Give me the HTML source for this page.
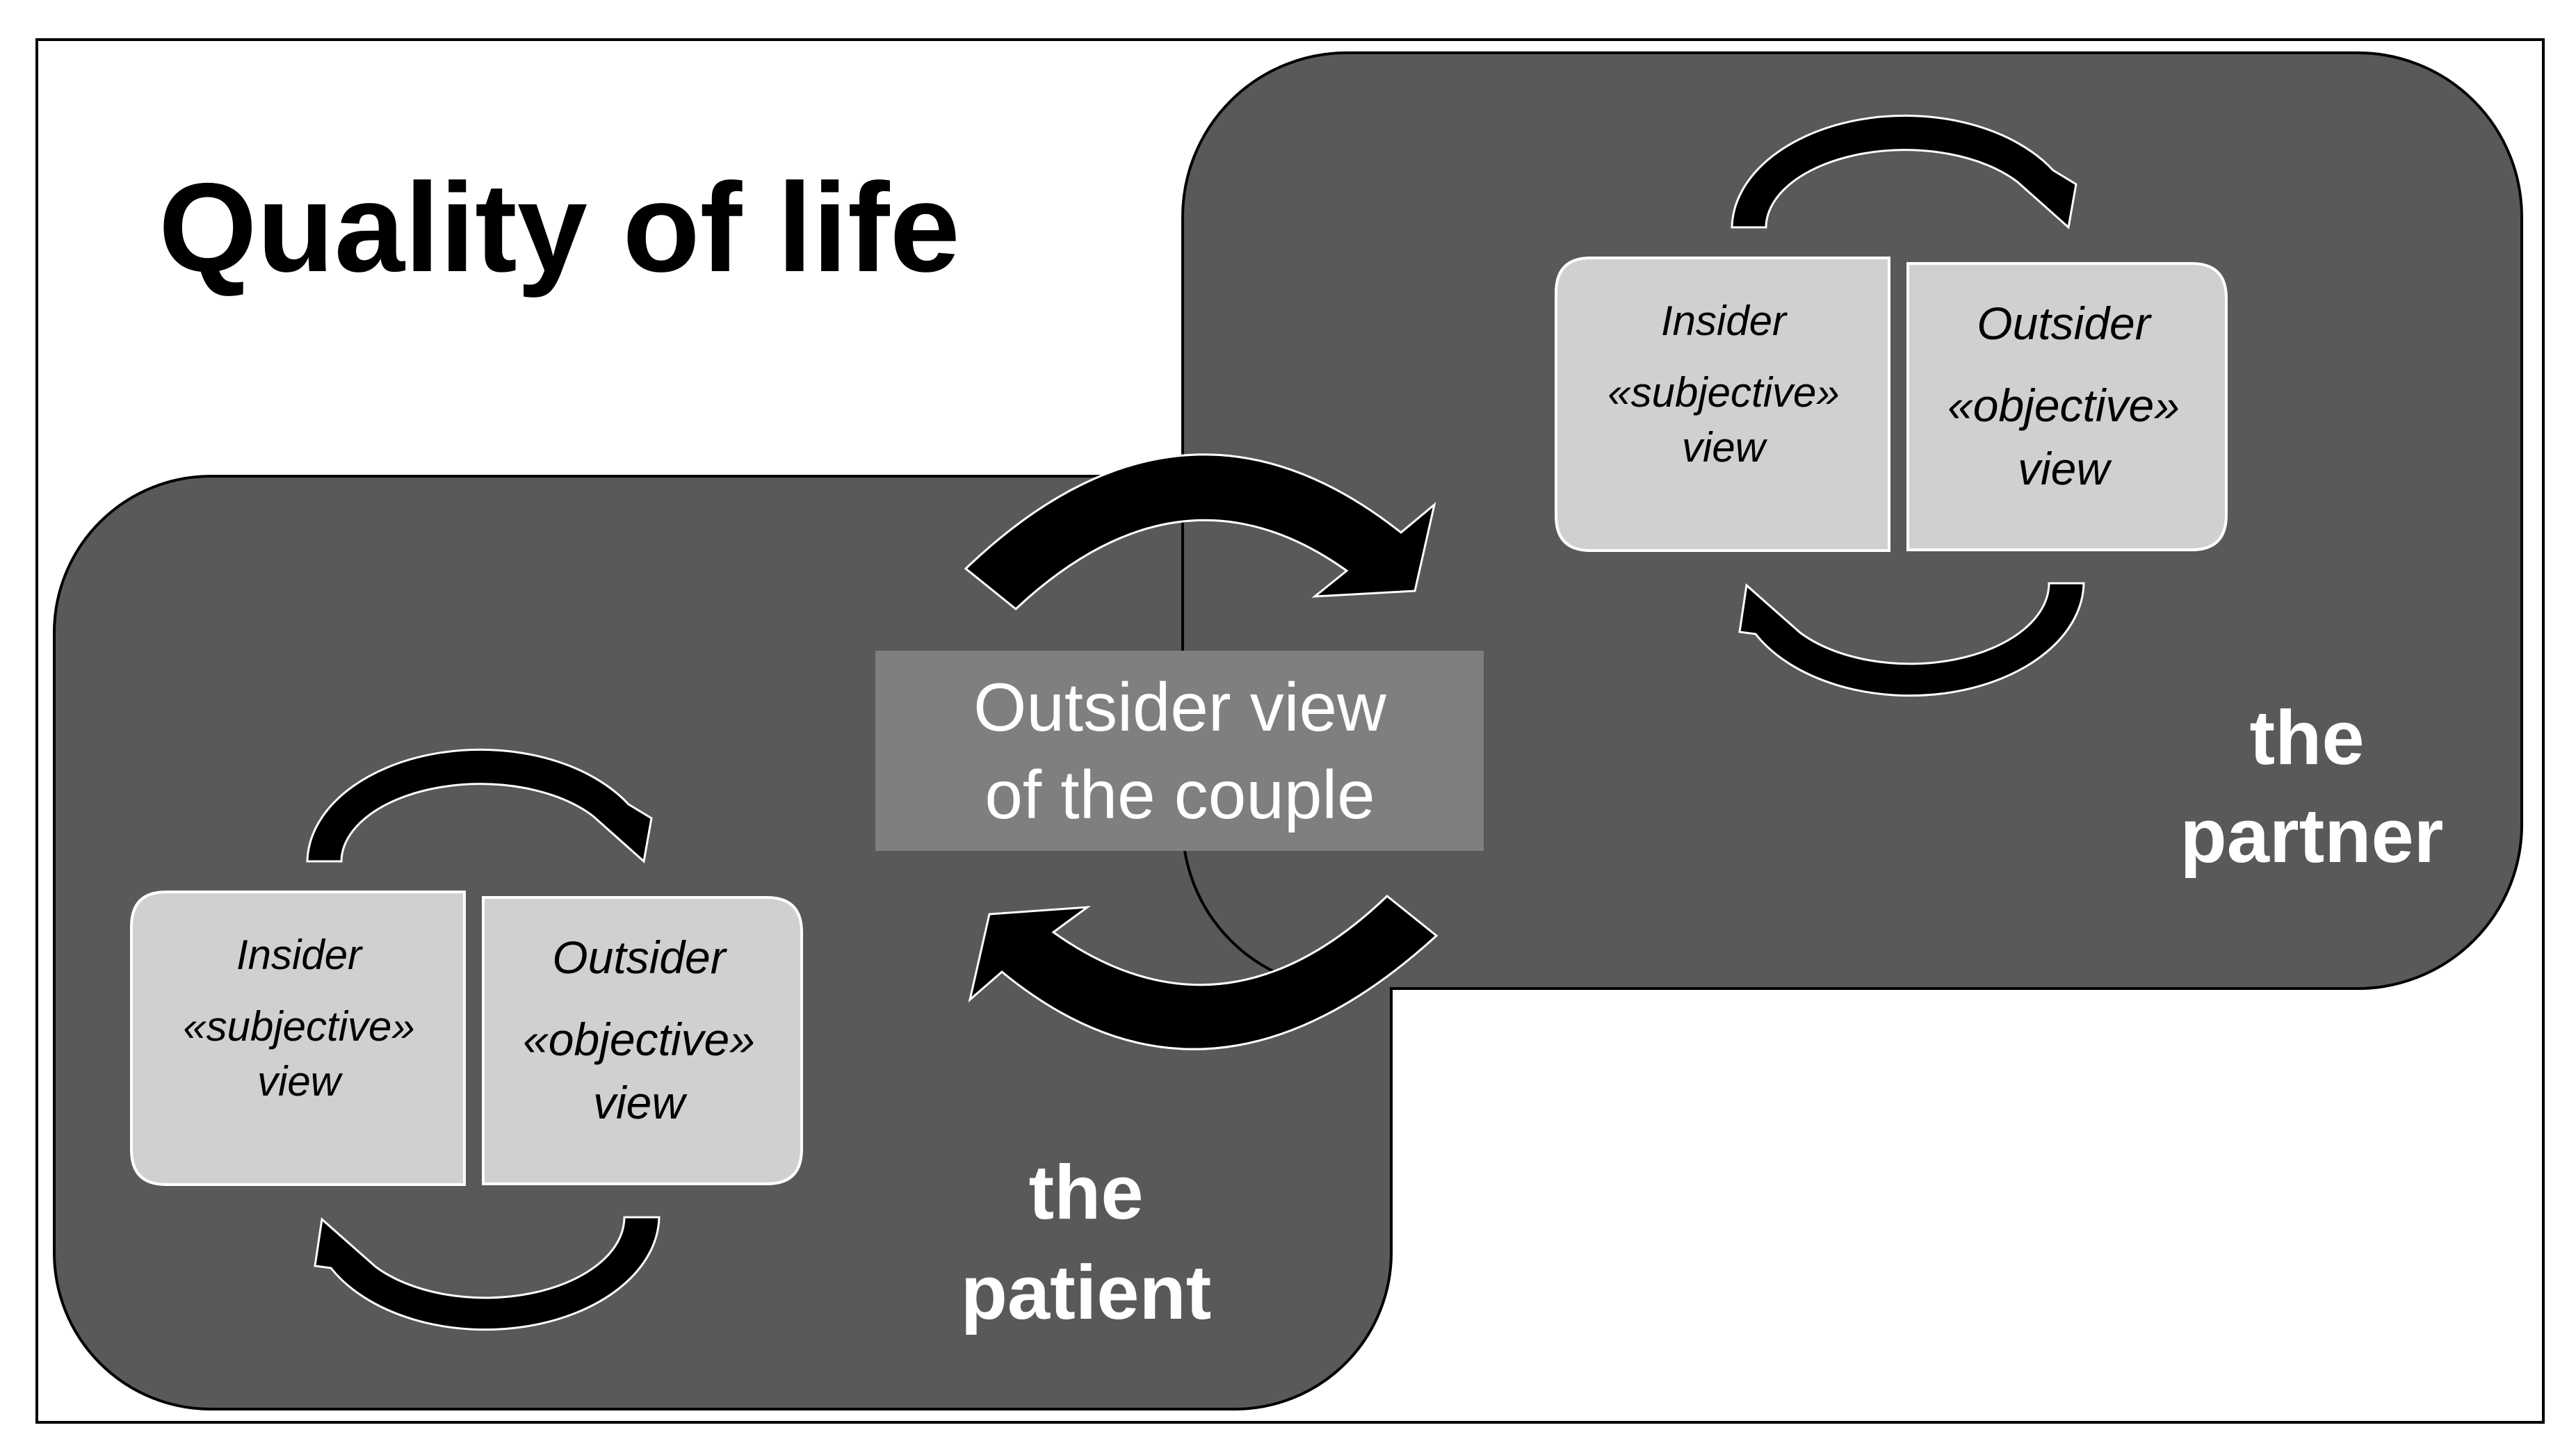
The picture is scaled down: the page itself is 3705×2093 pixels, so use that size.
<!DOCTYPE html>
<html><head><meta charset="utf-8"><style>
html,body{margin:0;padding:0;background:#fff;}
svg{display:block;}
</style></head><body>
<svg width="3705" height="2093" viewBox="0 0 3705 2093" xmlns="http://www.w3.org/2000/svg">
<rect x="0" y="0" width="3705" height="2093" fill="#fff"/>
<rect x="53" y="57" width="3605" height="1989" fill="none" stroke="#000" stroke-width="4"/>
<text x="228" y="390" font-family="Liberation Sans, sans-serif" font-weight="bold" font-size="182" fill="#000">Quality of life</text>

<rect x="78" y="685" width="1923" height="1342" rx="225" ry="225" fill="#595959" stroke="#000" stroke-width="4"/>
<rect x="1701" y="76" width="1926" height="1346" rx="236" ry="236" fill="#595959" stroke="#000" stroke-width="4"/>
<rect x="1840" y="1412" width="159" height="20" fill="#595959"/>

<rect x="1259" y="936" width="875" height="288" fill="#7f7f7f"/>
<g font-family="Liberation Sans, sans-serif" font-size="98" fill="#fff" text-anchor="middle">
<text x="1697" y="1051">Outsider view</text>
<text x="1697" y="1177">of the couple</text>
</g>

<path d="M1389,818 Q1702,518 2015,766 L2063,726 L2035,850 L1891,858 L1937,821 Q1700,652 1461,876 Z" fill="#000" stroke="#fff" stroke-width="3"/>
<path d="M2066,1346 Q1740,1644 1441,1398 L1395,1438 L1423,1315 L1564,1305 L1515,1341 Q1760,1515 1995,1289 Z" fill="#000" stroke="#fff" stroke-width="3"/>

<g id="grp">
<path d="M2491,327 A249,163 0 0 1 2953,245 L2986,265 L2975,327 L2902,262 A200,112 0 0 0 2540,327 Z" fill="#000" stroke="#fff" stroke-width="3"/>
<path d="M2997,839 A250,164 0 0 1 2525,912 L2502,909 L2512,842 L2589,910 A200,116 0 0 0 2947,839 Z" fill="#000" stroke="#fff" stroke-width="3"/>
<path d="M2288,371 L2717,371 L2717,792 L2288,792 Q2238,792 2238,742 L2238,421 Q2238,371 2288,371 Z" fill="#d0d0d0" stroke="#fff" stroke-width="4"/>
<path d="M2744,379 L3152,379 Q3202,379 3202,429 L3202,741 Q3202,791 3152,791 L2744,791 Z" fill="#d0d0d0" stroke="#fff" stroke-width="4"/>
<g font-family="Liberation Sans, sans-serif" font-style="italic" fill="#000" text-anchor="middle">
<text x="2479" y="482" font-size="60">Insider</text>
<text x="2479" y="585" font-size="60">«subjective»</text>
<text x="2479" y="664" font-size="60">view</text>
<text x="2968" y="488" font-size="66">Outsider</text>
<text x="2968" y="606" font-size="66">«objective»</text>
<text x="2968" y="697" font-size="66">view</text>
</g>
</g>
<use href="#grp" transform="translate(-2049,912)"/>

<g font-family="Liberation Sans, sans-serif" font-weight="bold" font-size="110" fill="#fff" text-anchor="middle">
<text x="3318" y="1099">the</text>
<text x="3325" y="1240">partner</text>
<text x="1562" y="1753">the</text>
<text x="1562" y="1897">patient</text>
</g>
</svg>
</body></html>
